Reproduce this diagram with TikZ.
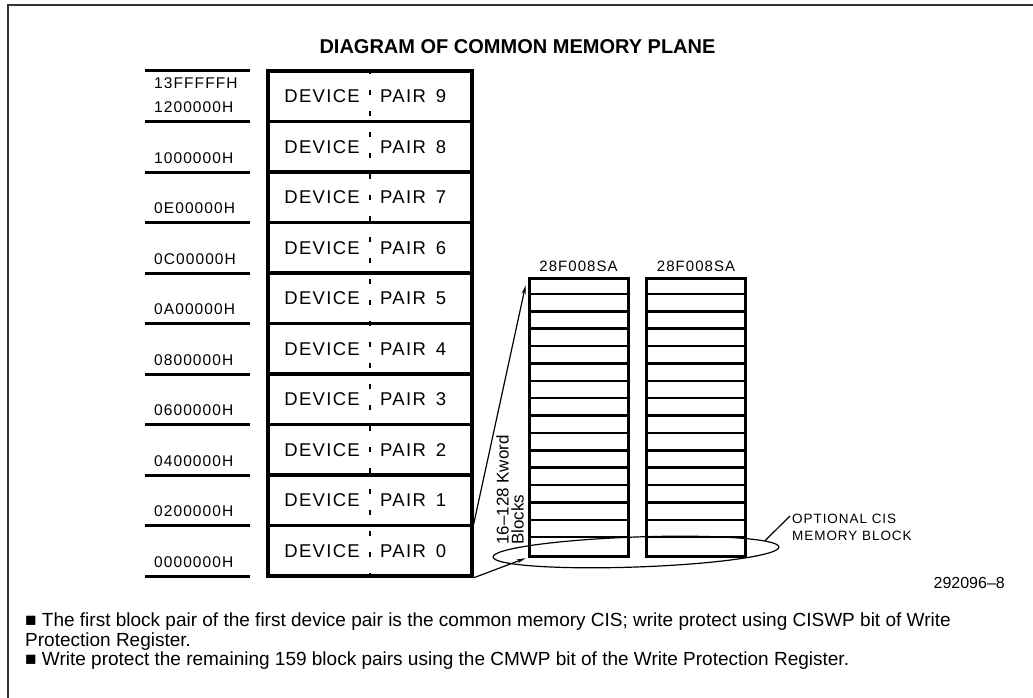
\documentclass[tikz,border=0pt]{standalone}
\usepackage{fontspec}
\setmainfont{Liberation Sans}
\newfontfamily\lblfont[LetterSpace=7]{Liberation Sans}
\usetikzlibrary{arrows.meta,shapes.geometric,positioning}

\begin{document}
\begin{tikzpicture}[x=1pt, y=-1pt,
  pairbox/.style={draw, line width=3.5pt, minimum width=204pt, minimum height=50.5pt, inner sep=0pt},
  devtxt/.style={font=\lblfont\fontsize{18.5}{18.5}\selectfont, inner sep=0pt},
  chip/.style={draw, line width=3pt, minimum width=99pt, minimum height=278pt, inner sep=0pt},
  chiplbl/.style={font=\lblfont\fontsize{15}{15}\selectfont, inner sep=0pt},
  addr/.style={font=\lblfont\fontsize{15.5}{15.5}\selectfont, anchor=base west, inner sep=0pt},
  ptr/.style={-{Stealth[length=9pt, width=4pt]}, line width=1.2pt}]
  \useasboundingbox (0,0) rectangle (1033,698);
  \draw[line width=2pt, black!80] (8,698) -- (8,5) -- (1033,5);
  \node[font=\bfseries\fontsize{20}{20}\selectfont] (title) at (517.5,46.5) {DIAGRAM OF COMMON MEMORY PLANE};
  \foreach \i in {0,...,9} {
    \node[pairbox] (p\i) at (370,{576-25.25-50.5*\i}) {};
    \node[devtxt, anchor=east] (d\i) at ([xshift=-10pt]p\i.center) {DEVICE};
    \node[devtxt, anchor=west] (q\i) at ([xshift=10pt]p\i.center) {PAIR\hspace{10pt}\i};
  }
  \draw[line width=2.5pt, dash pattern=on 5pt off 16pt] (p9.north) -- (p0.south);
  \foreach \i in {0,...,10} \draw[line width=3pt] (145,{576-50.5*\i}) -- (250,{576-50.5*\i});
  \foreach \lab [count=\i from 0] in {0000000H,0200000H,0400000H,0600000H,0800000H,0A00000H,0C00000H,0E00000H,1000000H,1200000H}
    \node[addr] (a\i) at (154,{576-50.5*\i-9}) {\lab};
  \node[addr] (atop) at (154,89) {13FFFFFH};
  \node[chip] (s1) at (578.5,417) {};
  \node[chip] (s2) at (696,417) {};
  \foreach \s in {s1,s2}
    \foreach \k in {1,...,15}
      \draw[line width=2.5pt] ([yshift={-17.375pt*\k}]\s.north west) -- ([yshift={-17.375pt*\k}]\s.north east);
  \node[chiplbl, above=5pt of s1] (c1) {28F008SA};
  \node[chiplbl, above=5pt of s2] (c2) {28F008SA};
  \node[rotate=90, anchor=north west, align=left, inner sep=0pt, font=\fontsize{17}{15}\selectfont] (kw) at (496,545) {16–128 Kword\\Blocks};
  \draw[ptr, shorten >=9pt] (p0.north east) -- (s1.north west);
  \draw[ptr, shorten >=2pt] (p0.south east) -- (s1.south west);
  \node[draw, ellipse, line width=1.2pt, minimum width=286pt, minimum height=30pt, inner sep=0pt, rotate=2] (cis) at (636,552) {};
  \node[font=\lblfont\fontsize{13.5}{17}\selectfont, align=left, anchor=north west, inner sep=0pt] (cisl) at (792,514) {OPTIONAL CIS\\MEMORY BLOCK};
  \draw[line width=1.2pt] ([xshift=-2pt,yshift=-2pt]cisl.north west) -- (cis.3);
  \node[anchor=base east, inner sep=0pt, font=\fontsize{16}{16}\selectfont] (fig) at (1005,588) {292096–8};
  \node[anchor=north west, align=left, inner sep=0pt, font=\fontsize{19}{19.5}\selectfont] (note) at (25,613) {■ The first block pair of the first device pair is the common memory CIS; write protect using CISWP bit of Write\\Protection Register.\\■ Write protect the remaining 159 block pairs using the CMWP bit of the Write Protection Register.};
\end{tikzpicture}
\end{document}
